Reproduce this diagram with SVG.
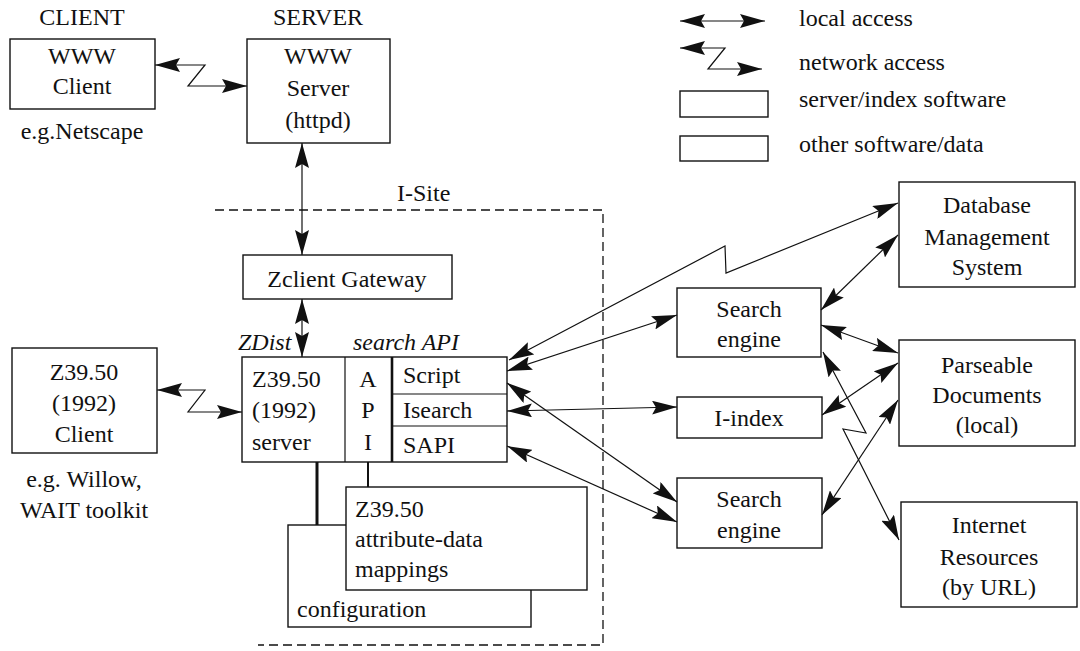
<svg xmlns="http://www.w3.org/2000/svg" width="1080" height="651" viewBox="0 0 1080 651">
<style>
text{font-size:24px;fill:#111}
.c{text-anchor:middle}
.it{font-style:italic}
.box{fill:#fff;stroke:#111;stroke-width:1.4}
.ln{fill:none;stroke:#111;stroke-width:1.2}
.dash{fill:none;stroke:#111;stroke-width:1.3;stroke-dasharray:9,5}
</style>
<defs>
<marker id="ah" markerUnits="userSpaceOnUse" markerWidth="26" markerHeight="14" refX="25" refY="7" orient="auto-start-reverse">
<path d="M0,0 L25,7 L0,14 L4,7 z" fill="#111"/>
</marker>
</defs>
<rect width="1080" height="651" fill="#fff"/>
<g font-family="'Liberation Serif', 'DejaVu Serif', 'Times New Roman', serif">

<g id="isite">
<path class="dash" d="M215,210 L603,210 L603,645 L258,645"/>
<text x="397" y="201">I-Site</text>
</g>

<g id="legend">
<path class="ln" d="M680,21 L765,21" marker-start="url(#ah)" marker-end="url(#ah)"/>
<text x="799" y="26">local access</text>
<path class="ln" d="M680,48 L725,48 L708,69 L762,69" marker-start="url(#ah)" marker-end="url(#ah)"/>
<text x="799" y="70">network access</text>
<rect class="box" x="680" y="91" width="88" height="26"/>
<text x="799" y="107">server/index software</text>
<rect class="box" x="680" y="136" width="88" height="25"/>
<text x="799" y="152">other software/data</text>
</g>

<g id="labels">
<text class="c" x="82" y="25">CLIENT</text>
<text class="c" x="318" y="25">SERVER</text>
</g>

<g id="www-client">
<rect class="box" x="10" y="39" width="145" height="70"/>
<text class="c" x="82" y="64">WWW</text>
<text class="c" x="82" y="94">Client</text>
<text class="c" x="82" y="139">e.g.Netscape</text>
</g>

<g id="www-server">
<rect class="box" x="247" y="39" width="143" height="104"/>
<text class="c" x="318" y="64">WWW</text>
<text class="c" x="318" y="96">Server</text>
<text class="c" x="318" y="128">(httpd)</text>
</g>

<g id="zclient">
<rect class="box" x="243" y="255" width="209" height="44"/>
<text class="c" x="347" y="287">Zclient Gateway</text>
</g>

<g id="z-client">
<rect class="box" x="12" y="348" width="145" height="105"/>
<text class="c" x="84" y="380">Z39.50</text>
<text class="c" x="84" y="411">(1992)</text>
<text class="c" x="84" y="442">Client</text>
<text class="c" x="84" y="487">e.g. Willow,</text>
<text class="c" x="84" y="518">WAIT toolkit</text>
</g>

<g id="z-server">
<text class="it" x="238" y="350">ZDist</text>
<text class="it" x="353" y="350">search API</text>
<rect class="box" x="242" y="357" width="265" height="105"/>
<line class="ln" x1="345" y1="357" x2="345" y2="462"/>
<line x1="392" y1="357" x2="392" y2="462" stroke="#111" stroke-width="2.6"/>
<line class="ln" x1="392" y1="394" x2="507" y2="394"/>
<line class="ln" x1="392" y1="426" x2="507" y2="426"/>
<text x="252" y="387">Z39.50</text>
<text x="252" y="418">(1992)</text>
<text x="252" y="450">server</text>
<text class="c" x="368" y="387">A</text>
<text class="c" x="368" y="418">P</text>
<text class="c" x="368" y="450">I</text>
<text x="403" y="383">Script</text>
<text x="403" y="418">Isearch</text>
<text x="403" y="453">SAPI</text>
</g>

<g id="configuration">
<rect class="box" x="288" y="525" width="243" height="102"/>
<text x="297" y="617">configuration</text>
</g>

<g id="mappings">
<rect class="box" x="346" y="487" width="241" height="103"/>
<text x="355" y="517">Z39.50</text>
<text x="355" y="547">attribute-data</text>
<text x="355" y="577">mappings</text>
</g>

<g id="search-engine-1">
<rect class="box" x="677" y="288" width="144" height="69"/>
<text class="c" x="749" y="317">Search</text>
<text class="c" x="749" y="347">engine</text>
</g>

<g id="i-index">
<rect class="box" x="677" y="397" width="145" height="41"/>
<text class="c" x="749" y="426">I-index</text>
</g>

<g id="search-engine-2">
<rect class="box" x="677" y="478" width="145" height="70"/>
<text class="c" x="749" y="507">Search</text>
<text class="c" x="749" y="538">engine</text>
</g>

<g id="dbms">
<rect class="box" x="899" y="182" width="176" height="105"/>
<text class="c" x="987" y="213">Database</text>
<text class="c" x="987" y="245">Management</text>
<text class="c" x="987" y="275">System</text>
</g>

<g id="parseable">
<rect class="box" x="899" y="340" width="176" height="106"/>
<text class="c" x="987" y="373">Parseable</text>
<text class="c" x="987" y="403">Documents</text>
<text class="c" x="987" y="433">(local)</text>
</g>

<g id="internet">
<rect class="box" x="901" y="502" width="176" height="105"/>
<text class="c" x="989" y="533">Internet</text>
<text class="c" x="989" y="565">Resources</text>
<text class="c" x="989" y="595">(by URL)</text>
</g>

<g id="connectors">
<path class="ln" d="M155,65 L205,65 L188,86 L247,86" marker-start="url(#ah)" marker-end="url(#ah)"/>
<path class="ln" d="M302,143 L302,255" marker-start="url(#ah)" marker-end="url(#ah)"/>
<path class="ln" d="M302,299 L302,357" marker-start="url(#ah)" marker-end="url(#ah)"/>
<path class="ln" d="M157,390 L205,390 L188,412 L242,412" marker-start="url(#ah)" marker-end="url(#ah)"/>
<path class="ln" d="M509,360 L725,246 L726,273 L898,203" marker-start="url(#ah)" marker-end="url(#ah)"/>
<path class="ln" d="M507,371 L677,315" marker-start="url(#ah)" marker-end="url(#ah)"/>
<path class="ln" d="M821,310 L898,235" marker-start="url(#ah)" marker-end="url(#ah)"/>
<path class="ln" d="M821,325 L898,353" marker-start="url(#ah)" marker-end="url(#ah)"/>
<path class="ln" d="M507,411 L677,407" marker-start="url(#ah)" marker-end="url(#ah)"/>
<path class="ln" d="M822,415 L898,363" marker-start="url(#ah)" marker-end="url(#ah)"/>
<path class="ln" d="M507,383 L677,502" marker-start="url(#ah)" marker-end="url(#ah)"/>
<path class="ln" d="M507,446 L677,522" marker-start="url(#ah)" marker-end="url(#ah)"/>
<path class="ln" d="M822,515 L898,400" marker-start="url(#ah)" marker-end="url(#ah)"/>
<path class="ln" d="M823,352 L866,433 L843,429 L899,540" marker-start="url(#ah)" marker-end="url(#ah)"/>
<line x1="317" y1="462" x2="317" y2="525" stroke="#111" stroke-width="3"/>
<line x1="368" y1="462" x2="368" y2="487" stroke="#111" stroke-width="2"/>
</g>
</g>
</svg>
